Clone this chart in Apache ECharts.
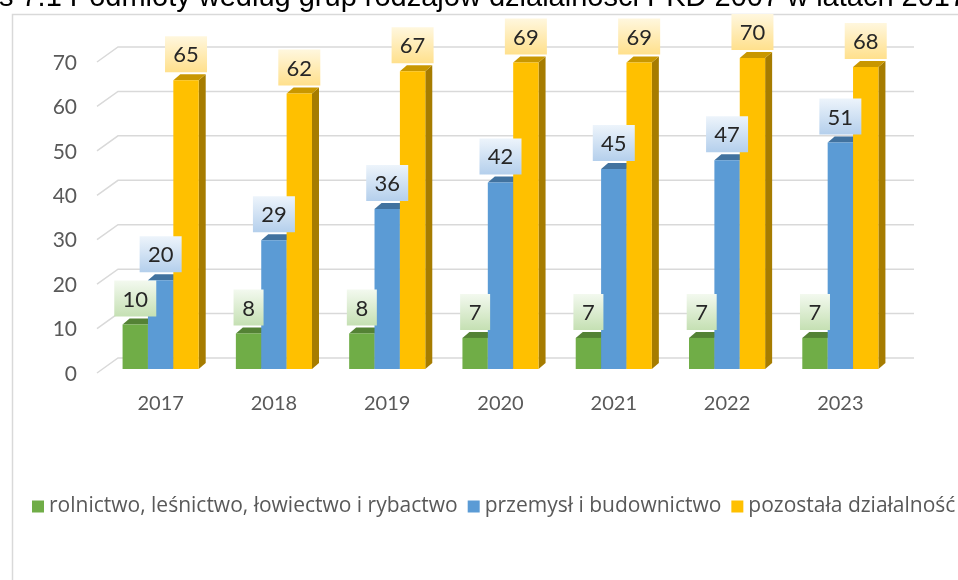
<!DOCTYPE html>
<html lang="pl">
<head>
  <meta charset="UTF-8">
  <title>Podmioty według grup rodzajów działalności</title>
  <style>
    * { margin: 0; padding: 0; box-sizing: border-box; }
    body { width: 958px; height: 580px; background: #fff; overflow: hidden; }
    #chart { width: 958px; height: 580px; }
  </style>
</head>
<body>
  <div id="chart"></div>
</body>
<script src="https://cdn.jsdelivr.net/npm/echarts@6/dist/echarts.min.js"></script>
<script>
  // dane
  const categories = ['2017', '2018', '2019', '2020', '2021', '2022', '2023']
  const rolnictwo = [10, 8, 8, 7, 7, 7, 7]
  const przemysl = [20, 29, 36, 42, 45, 47, 51]
  const pozostala = [65, 62, 67, 69, 69, 70, 68]
  const yTicks = [0, 10, 20, 30, 40, 50, 60, 70]
  const seriesNames = [
    'rolnictwo, leśnictwo, łowiectwo i rybactwo',
    'przemysł i budownictwo',
    'pozostała działalność'
  ]
  const title = 'Wykres 7.1 Podmioty według grup rodzajów działalności PKD 2007 w latach 2017–2023'

  // kolory: przód, góra, bok, etykieta (góra, dół)
  const palette = [
    { front: '#70ad47', top: '#548235', side: '#4e7a30', lblTop: '#f3f9ef', lblBottom: '#c5e0b3' },
    { front: '#5b9bd5', top: '#41729f', side: '#3a6a96', lblTop: '#edf4fb', lblBottom: '#b4cfec' },
    { front: '#ffc000', top: '#c99700', side: '#a67c00', lblTop: '#fff7de', lblBottom: '#ffe08c' }
  ]

  const DX = 7, DY = -6   // głębokość słupka

  function barRenderer(idx) {
    const c = palette[idx]
    return function (params, api) {
      const cat = api.value(0), val = api.value(1)
      const base = api.coord([cat, 0])
      const top = api.coord([cat, val])
      const band = api.size([1, 0])[0]
      const w = band * 0.224
      const x0 = base[0] - 1.5 * w + idx * w
      const x1 = x0 + w
      const yb = base[1], yt = top[1]
      const digits = String(val).length
      const bw = 18 + 12 * digits, bh = 36
      const cx = (x0 + x1) / 2
      const by = yt - 8 - bh
      return {
        type: 'group',
        children: [
          { type: 'polygon', z2: idx * 3, shape: { points: [[x1, yt], [x1 + DX, yt + DY], [x1 + DX, yb + DY], [x1, yb]] }, style: { fill: c.side } },
          { type: 'polygon', z2: idx * 3 + 1, shape: { points: [[x0, yt], [x0 + DX, yt + DY], [x1 + DX, yt + DY], [x1, yt]] }, style: { fill: c.top } },
          { type: 'rect', z2: idx * 3 + 2, shape: { x: x0, y: yt, width: w, height: yb - yt }, style: { fill: c.front } },
          {
            type: 'rect', z2: 100, shape: { x: cx - bw / 2, y: by, width: bw, height: bh },
            style: { fill: new echarts.graphic.LinearGradient(0, 0, 0, 1, [{ offset: 0, color: c.lblTop }, { offset: 1, color: c.lblBottom }]) }
          },
          {
            type: 'text', z2: 101,
            style: { text: String(val), x: cx, y: by + bh / 2 + 1, align: 'center', verticalAlign: 'middle', font: '22px Lato', fill: '#262626' }
          }
        ]
      }
    }
  }

  // linie siatki na tylnej ścianie
  function gridRenderer(params, api) {
    const p = api.coord([0, api.value(1)])
    const cs = params.coordSys
    return {
      type: 'polyline',
      silent: true,
      shape: { points: [[cs.x - 7, p[1] + 4], [cs.x + 14, p[1] - 11], [cs.x + cs.width + 17, p[1] - 11]] },
      style: { stroke: '#d9d9d9', lineWidth: 1.5, fill: null }
    }
  }

  const chart = echarts.init(document.getElementById('chart'))
  chart.setOption({
    animation: false,
    color: palette.map(p => p.front),
    textStyle: { fontFamily: 'Lato' },
    graphic: [
      { type: 'rect', left: 10, top: 12, shape: { width: 1200, height: 800 }, style: { fill: null, stroke: '#d9d9d9', lineWidth: 1.5 }, silent: true },
      { type: 'text', x: -83, y: -2, style: { text: title, font: '29px "Liberation Sans"', fill: '#000', verticalAlign: 'middle' }, silent: true }
    ],
    legend: {
      data: seriesNames,
      left: 27,
      top: 491,
      width: 1600,
      icon: 'rect',
      itemWidth: 12,
      itemHeight: 12,
      itemGap: 10,
      textStyle: { fontSize: 21, color: '#595959', fontFamily: 'Open Sans' }
    },
    grid: [
      { left: 104, right: 61, top: 58, bottom: 211 },
      // siatka pomocnicza dla etykiet osi Y (przesunięta w dół jak w oryginale)
      { left: 104, right: 61, top: 63, bottom: 206 }
    ],
    xAxis: [
      {
        type: 'category',
        data: categories,
        axisLine: { show: false },
        axisTick: { show: false },
        axisLabel: { fontSize: 20, color: '#595959', margin: 25 }
      },
      { type: 'category', gridIndex: 1, data: categories, show: false }
    ],
    yAxis: [
      { type: 'value', min: 0, max: 70, interval: 10, splitLine: { show: false }, axisLabel: { show: false } },
      {
        type: 'value', gridIndex: 1, min: 0, max: 70, interval: 10,
        splitLine: { show: false },
        axisLabel: { fontSize: 21, color: '#595959', margin: 27 }
      }
    ],
    series: [
      {
        name: 'siatka',
        type: 'custom',
        renderItem: gridRenderer,
        silent: true,
        z: 1,
        data: yTicks.map(v => [0, v])
      },
      ...[rolnictwo, przemysl, pozostala].map((vals, i) => ({
        name: seriesNames[i],
        type: 'custom',
        renderItem: barRenderer(i),
        itemStyle: { color: palette[i].front },
        encode: { x: 0, y: 1 },
        z: 2,
        data: vals.map((v, j) => [j, v])
      }))
    ]
  })
</script>
</html>
